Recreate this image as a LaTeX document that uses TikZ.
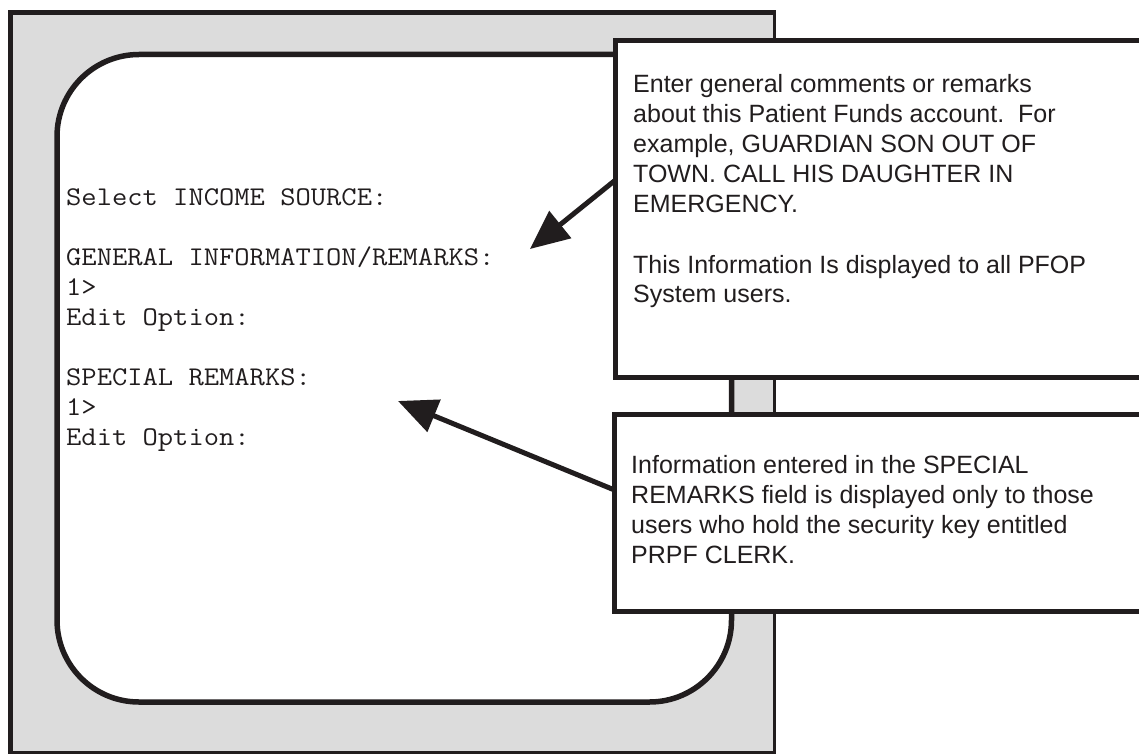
\documentclass[tikz,border=0pt]{standalone}
\usepackage{fontspec}
\setmainfont{Liberation Sans}
\setmonofont[FakeStretch=1.1]{Latin Modern Mono}
\usetikzlibrary{arrows.meta}
\definecolor{ink}{HTML}{211D1E}
\definecolor{panel}{HTML}{DCDCDC}
\frenchspacing
\tikzset{
  callbox/.style={draw=ink, fill=white, line width=5pt, outer sep=0pt, inner sep=0pt, anchor=north west},
  calltext/.style={anchor=base west, inner sep=0pt, font=\fontsize{25}{30}\selectfont, text=ink},
  screentext/.style={anchor=base west, inner sep=0pt, font=\ttfamily\fontsize{27}{30}\selectfont, text=ink},
  pointer/.style={draw=ink, line width=5pt, -{Triangle[length=39pt,width=34pt]}},
}
\begin{document}
\begin{tikzpicture}[x=1pt,y=-1pt]
\useasboundingbox (0,0) rectangle (1139,754);
\clip (0,0) rectangle (1139,754);
\fill[white] (0,0) rectangle (1139,754);
% outer panel
\fill[panel] (10,12.5) rectangle (774,752);
\draw[ink, line width=3pt] (774,12.5) -- (774,752) -- (10,752);
\draw[ink, line width=5pt] (10,753.5) -- (10,12.5) -- (775.5,12.5);
% screen
\draw[ink, fill=white, line width=5.5pt, rounded corners=82pt] (57,54.5) rectangle (731.5,702);
\node[screentext] (scr) at (66,205) {\begin{tabular}[t]{@{}l@{}}Select INCOME SOURCE:\\ \\ GENERAL INFORMATION/REMARKS:\\ 1>\\ Edit Option:\\ \\ SPECIAL REMARKS:\\ 1>\\ Edit Option:\end{tabular}};
% callouts
\node[callbox, minimum width=540pt, minimum height=336.5pt] (c1) at (615.5,40.5) {};
\node[callbox, minimum width=540pt, minimum height=197pt] (c2) at (614.5,414.5) {};
\node[calltext] (t1) at (633,93) {\begin{tabular}[t]{@{}l@{}}Enter general comments or remarks\\ about this Patient Funds account.\ \ For\\ example, GUARDIAN SON OUT OF\\ TOWN. CALL HIS DAUGHTER IN\\ EMERGENCY.\\ \\ This Information Is displayed to all PFOP\\ System users.\end{tabular}};
\node[calltext] (t2) at (631,473) {\begin{tabular}[t]{@{}l@{}}Information entered in the SPECIAL\\ REMARKS field is displayed only to those\\ users who hold the security key entitled\\ PRPF CLERK.\end{tabular}};
% pointers
\coordinate (tip1) at (530,249);
\coordinate (tip2) at (398,401);
\draw[pointer] (c1.west |- 0,180) -- (tip1);
\draw[pointer] (c2.west |- 0,490) -- (tip2);
\end{tikzpicture}
\end{document}
